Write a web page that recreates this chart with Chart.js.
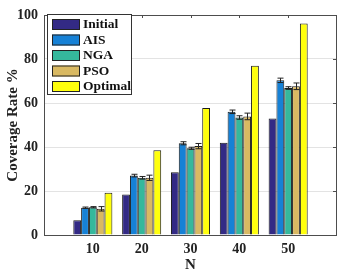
<!DOCTYPE html>
<html>
<head>
<meta charset="utf-8">
<script src="https://cdn.jsdelivr.net/npm/chart.js@4"></script>
<style>
  html, body { margin: 0; padding: 0; background: #fff; }
  #wrap { width: 340px; height: 269px; }
</style>
</head>
<body>
<div id="wrap"><canvas id="chart" width="340" height="269"></canvas></div>
<script>
const categories = [10, 20, 30, 40, 50];
const seriesNames = ["Initial", "AIS", "NGA", "PSO", "Optimal"];
const initialVals = [6.7, 18.4, 28.5, 41.9, 53.0];
const aisVals = [12.4, 27.0, 41.7, 56.0, 70.3];
const ngaVals = [12.6, 26.0, 39.4, 53.4, 66.8];
const psoVals = [11.9, 26.0, 40.4, 53.9, 67.6];
const optimalVals = [19.2, 38.5, 57.7, 76.9, 96.1];
const aisErr = [0.3, 0.6, 0.7, 0.8, 1.0];
const ngaErr = [0.3, 0.6, 0.5, 0.8, 0.6];
const psoErr = [1.0, 1.2, 1.2, 1.5, 1.5];
const yTicks = [0, 20, 40, 60, 80, 100];

const colors = ["#332a85", "#1681d6", "#35b89c", "#d9b962", "#ffff0d"];
const serif = "'Liberation Serif', 'DejaVu Serif', serif";

const allVals = [initialVals, aisVals, ngaVals, psoVals, optimalVals];
const allErr = [null, aisErr, ngaErr, psoErr, null];

const datasets = seriesNames.map((name, k) => ({
  label: name,
  data: categories.map((c, i) => ({ x: c, y: allVals[k][i] })),
  err: allErr[k],
  backgroundColor: colors[k],
  borderColor: "#1a1a1a",
  borderWidth: 1,
  borderSkipped: "bottom",
  categoryPercentage: 0.8,
  barPercentage: 1.0,
}));

// error bars drawn through the y scale
const errorBars = {
  id: "errorBars",
  afterDatasetsDraw(chart) {
    const ctx = chart.ctx;
    const ys = chart.scales.y;
    ctx.save();
    ctx.strokeStyle = "#222";
    ctx.lineWidth = 1;
    chart.data.datasets.forEach((ds, k) => {
      if (!ds.err) return;
      const meta = chart.getDatasetMeta(k);
      meta.data.forEach((bar, i) => {
        const v = ds.data[i].y;
        const e = ds.err[i];
        const hi = ys.getPixelForValue(v + e);
        const lo = ys.getPixelForValue(v - e);
        const x = Math.round(bar.x) + 0.5;
        ctx.beginPath();
        ctx.moveTo(x, hi);
        ctx.lineTo(x, lo);
        ctx.moveTo(x - 3, hi);
        ctx.lineTo(x + 3, hi);
        ctx.moveTo(x - 3, lo);
        ctx.lineTo(x + 3, lo);
        ctx.stroke();
      });
    });
    ctx.restore();
  },
};

// box with inward ticks plus legend inside the plot
const boxAndLegend = {
  id: "boxAndLegend",
  afterDraw(chart) {
    const ctx = chart.ctx;
    const a = chart.chartArea;
    const xs = chart.scales.x;
    const ys = chart.scales.y;
    ctx.save();
    ctx.strokeStyle = "#4d4d4d";
    ctx.lineWidth = 1;
    ctx.strokeRect(Math.round(a.left) + 0.5, Math.round(a.top) + 0.5,
      Math.round(a.right - a.left) - 1, Math.round(a.bottom - a.top));
    ctx.beginPath();
    categories.forEach((c) => {
      const x = Math.round(xs.getPixelForValue(c)) + 0.5;
      ctx.moveTo(x, a.top);
      ctx.lineTo(x, a.top + 3);
    });
    yTicks.slice(1, -1).forEach((t) => {
      const y = Math.round(ys.getPixelForValue(t)) + 0.5;
      ctx.moveTo(a.right - 1, y);
      ctx.lineTo(a.right - 4, y);
    });
    ctx.stroke();

    // legend
    const lx = a.left + 3, ly = a.top - 1, lw = 84, lh = 80;
    ctx.fillStyle = "#fff";
    ctx.fillRect(lx, ly, lw, lh);
    ctx.strokeStyle = "#333";
    ctx.strokeRect(lx + 0.5, ly + 0.5, lw, lh);
    ctx.font = "bold 13.5px " + serif;
    ctx.textBaseline = "middle";
    seriesNames.forEach((name, k) => {
      const cy = ly + 10 + k * 15.5;
      ctx.fillStyle = colors[k];
      ctx.fillRect(lx + 5, cy - 5, 28, 11);
      ctx.strokeStyle = "#222";
      ctx.strokeRect(lx + 5.5, cy - 4.5, 27, 10);
      ctx.fillStyle = "#111";
      ctx.fillText(name, lx + 36, cy + 1);
    });
    ctx.restore();
  },
};

new Chart(document.getElementById("chart"), {
  type: "bar",
  data: { datasets },
  options: {
    responsive: false,
    animation: false,
    layout: { padding: { top: 15, right: 3, left: 0, bottom: 0 } },
    plugins: {
      legend: { display: false },
      tooltip: { enabled: false },
    },
    scales: {
      x: {
        type: "linear",
        min: 0,
        max: 60,
        offset: false,
        afterBuildTicks(scale) {
          scale.ticks = categories.map((c) => ({ value: c }));
        },
        afterFit(scale) { scale.height = 34; },
        grid: { display: false, drawTicks: false },
        border: { display: false },
        ticks: {
          color: "#222",
          font: { family: serif, size: 14, weight: "bold" },
          padding: 6,
          maxRotation: 0,
        },
        title: {
          display: true,
          text: "N",
          color: "#222",
          font: { family: serif, size: 15, weight: "bold" },
          padding: { top: 0, bottom: -5 },
        },
      },
      y: {
        min: 0,
        max: 100,
        afterBuildTicks(scale) {
          scale.ticks = yTicks.map((v) => ({ value: v }));
        },
        afterFit(scale) { scale.width = 44; },
        grid: { color: "#e3e3e3", drawTicks: false },
        border: { display: false },
        ticks: {
          color: "#222",
          font: { family: serif, size: 14, weight: "bold" },
          padding: 6,
        },
        title: {
          display: true,
          text: "Coverage Rate %",
          color: "#222",
          font: { family: serif, size: 15, weight: "bold" },
          padding: { top: 4, bottom: 0 },
        },
      },
    },
  },
  plugins: [errorBars, boxAndLegend],
});
</script>
</body>
</html>
